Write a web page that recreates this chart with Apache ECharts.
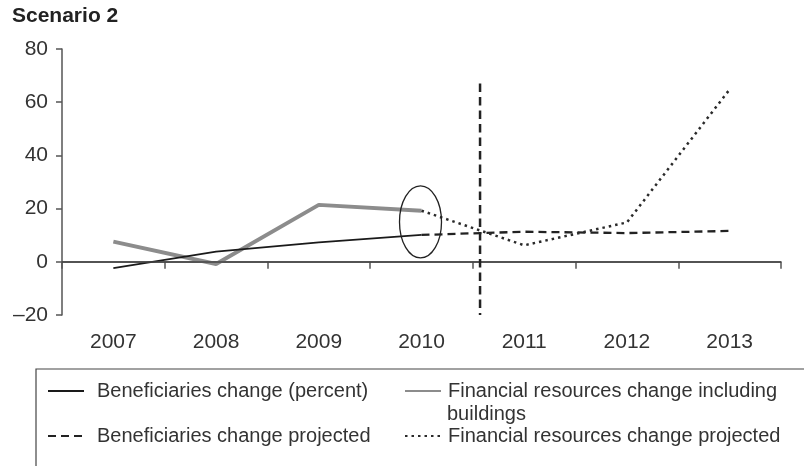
<!DOCTYPE html>
<html>
<head>
<meta charset="utf-8">
<script src="https://cdn.jsdelivr.net/npm/echarts@6/dist/echarts.min.js"></script>
<style>
  html, body { margin: 0; padding: 0; background: #fff; }
  #main { width: 804px; height: 466px; }
</style>
</head>
<body>
<div id="main"></div>
<script>
// Years on the category axis
const years = ['2007', '2008', '2009', '2010', '2011', '2012', '2013'];

// Value axis range and step (percent change)
const yMin = -20;
const yMax = 80;
const yStep = 20;

// Observed values up to 2010, projections from 2010 onward
const beneficiaries          = [-2.4, 3.8, 7.3, 10.1, null, null, null];
const beneficiariesProjected = [null, null, null, 10.1, 11.3, 10.8, 11.6];
const financial              = [7.6, -0.8, 21.4, 19.2, null, null, null];
const financialProjected     = [null, null, null, 19.2, 6.2, 14.8, 64.8];

const seriesNames = [
  'Beneficiaries change (percent)',
  'Financial resources change including buildings',
  'Beneficiaries change projected',
  'Financial resources change projected'
];

const FONT = '"Liberation Sans", Arial, sans-serif';
const TEXT = '#333';
const AXIS = '#555';

const chart = echarts.init(document.getElementById('main'), null, { renderer: 'canvas' });

function legendAt(name, left, top, textGap, formatter) {
  return {
    data: [name],
    left: left,
    top: top,
    padding: 0,
    orient: 'horizontal',
    itemWidth: 36,
    itemHeight: 14,
    selectedMode: false,
    itemStyle: { opacity: 0, borderWidth: 0 },
    formatter: formatter || '{name}',
    textStyle: {
      fontFamily: FONT, fontSize: 20, color: TEXT, lineHeight: 22,
      padding: [0, 0, 0, textGap]
    }
  };
}

const option = {
  animation: false,
  backgroundColor: '#fff',
  title: {
    text: 'Scenario 2',
    left: 7,
    top: 1,
    textStyle: { fontFamily: FONT, fontSize: 21, fontWeight: 'bold', color: '#222' }
  },
  grid: { left: 62, right: 23, top: 49, bottom: 151, containLabel: false },
  legend: [
    legendAt(seriesNames[0], 47, 380, 8),
    legendAt(seriesNames[1], 404, 380, 2, () => 'Financial resources change including'),
    legendAt(seriesNames[2], 47, 425, 8),
    legendAt(seriesNames[3], 404, 425, 2)
  ],
  xAxis: {
    type: 'category',
    data: years,
    boundaryGap: true,
    axisLine: { lineStyle: { color: AXIS, width: 1.5 } },
    axisTick: { show: true, alignWithLabel: false, length: 7, lineStyle: { color: AXIS, width: 1.5 } },
    axisLabel: { fontFamily: FONT, fontSize: 21, color: TEXT, margin: 17 },
    splitLine: { show: false }
  },
  yAxis: {
    type: 'value',
    min: yMin,
    max: yMax,
    interval: yStep,
    axisLine: { show: true, lineStyle: { color: AXIS, width: 1.5 } },
    axisTick: { show: true, length: 6, lineStyle: { color: AXIS, width: 1.5 } },
    axisLabel: {
      fontFamily: FONT, fontSize: 21, color: TEXT, margin: 14,
      formatter: v => (v < 0 ? '\u2013' + Math.abs(v) : String(v))
    },
    splitLine: { show: false }
  },
  series: [
    {
      name: seriesNames[0],
      type: 'line',
      data: beneficiaries,
      symbol: 'none',
      z: 4,
      lineStyle: { color: '#1a1a1a', width: 1.8 },
      itemStyle: { color: '#1a1a1a' },
      markLine: {
        silent: true,
        symbol: ['none', 'none'],
        label: { show: false },
        lineStyle: { color: '#444', width: 1.5, type: 'solid' },
        data: [{ yAxis: 0 }]
      }
    },
    {
      name: seriesNames[1],
      type: 'line',
      data: financial,
      symbol: 'none',
      z: 3,
      lineStyle: { color: '#8c8c8c', width: 4 },
      itemStyle: { color: '#8c8c8c' }
    },
    {
      name: seriesNames[2],
      type: 'line',
      data: beneficiariesProjected,
      symbol: 'none',
      z: 4,
      lineStyle: { color: '#222', width: 2.3, type: [8, 5] },
      itemStyle: { color: '#222' }
    },
    {
      name: seriesNames[3],
      type: 'line',
      data: financialProjected,
      symbol: 'none',
      z: 4,
      lineStyle: { color: '#2a2a2a', width: 2.5, type: [2.5, 4] },
      itemStyle: { color: '#2a2a2a' }
    }
  ]
};

chart.setOption(option);

// Annotations placed in data coordinates: ring around the last observed year,
// dashed divider marking the start of the projection period, legend frame.
const p2010 = chart.convertToPixel({ gridIndex: 0 }, ['2010', 15]);
const p2011 = chart.convertToPixel({ gridIndex: 0 }, ['2011', 15]);
const dividerX = p2010[0] + 0.57 * (p2011[0] - p2010[0]);
const dividerTop = chart.convertToPixel({ yAxisIndex: 0 }, 67);
const dividerBottom = chart.convertToPixel({ yAxisIndex: 0 }, yMin);

chart.setOption({
  graphic: [
    {
      type: 'ellipse',
      shape: { cx: p2010[0] - 1, cy: p2010[1], rx: 21, ry: 36 },
      style: { fill: 'none', stroke: '#222', lineWidth: 1.3 },
      z: 10, silent: true
    },
    {
      type: 'line',
      shape: { x1: dividerX, y1: dividerTop, x2: dividerX, y2: dividerBottom },
      style: { stroke: '#222', lineWidth: 2.5, lineDash: [8.5, 5] },
      z: 10, silent: true
    },
    {
      type: 'rect',
      shape: { x: 36, y: 369, width: 800, height: 120 },
      style: { fill: 'none', stroke: '#444', lineWidth: 1.2 },
      silent: true
    },
    {
      type: 'text',
      left: 447,
      top: 404,
      style: { text: 'buildings', font: '20px ' + FONT, fill: TEXT },
      silent: true
    }
  ]
});
</script>
</body>
</html>
